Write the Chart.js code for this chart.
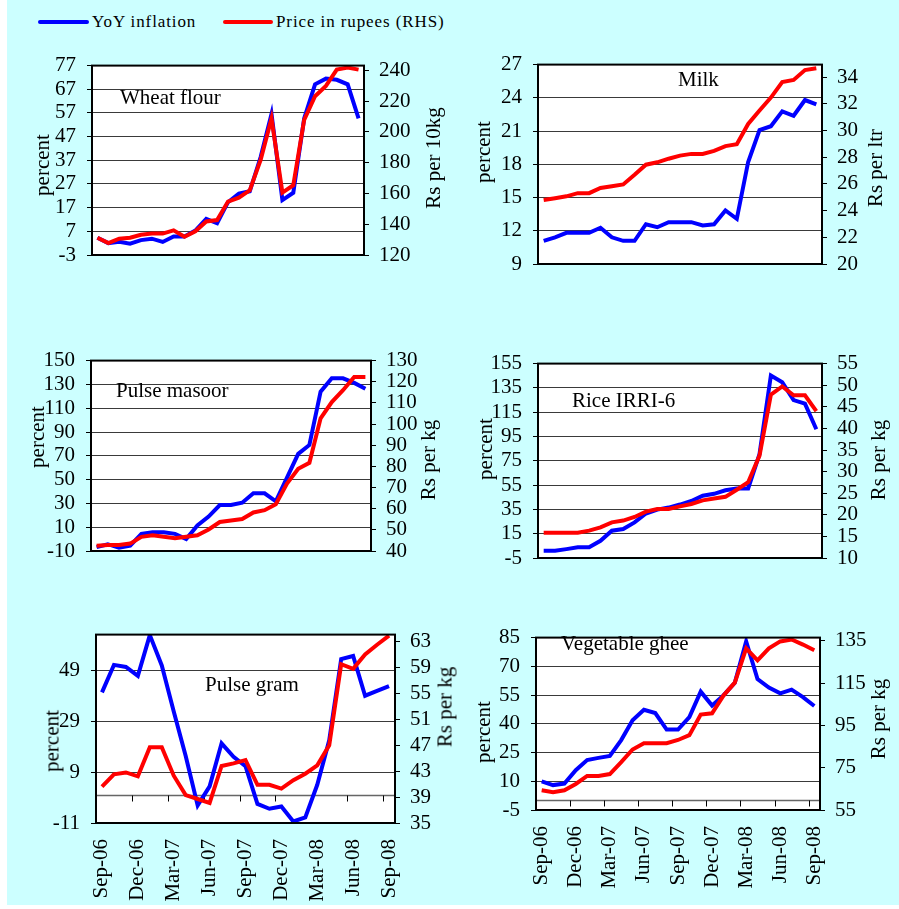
<!DOCTYPE html>
<html><head><meta charset="utf-8">
<script src="https://cdn.jsdelivr.net/npm/chart.js@4/dist/chart.umd.min.js"></script>
<style>
html,body{margin:0;padding:0;background:#fff;width:899px;height:909px;overflow:hidden;}
#bg{position:absolute;left:7px;top:0;width:892px;height:905px;background:#CCFFFF;}
#root{position:absolute;left:0;top:0;width:899px;height:909px;}
canvas{position:absolute;}
.t{position:absolute;font-family:'Liberation Serif','Times New Roman',serif;font-size:21px;color:#000;white-space:nowrap;line-height:1;}
.rot{transform:translate(-50%,-50%) rotate(-90deg);}
.ttl{transform:translateY(-50%);}
.lg{position:absolute;height:4px;border-radius:2px;}
.lgt{position:absolute;font-family:'Liberation Serif','Times New Roman',serif;font-size:17px;letter-spacing:0.9px;line-height:1;white-space:nowrap;color:#000;}
</style></head><body>
<div id="bg"></div>
<div id="root"></div>
<script>
const months = ["Sep-06","Oct-06","Nov-06","Dec-06","Jan-07","Feb-07","Mar-07","Apr-07","May-07","Jun-07","Jul-07","Aug-07","Sep-07","Oct-07","Nov-07","Dec-07","Jan-08","Feb-08","Mar-08","Apr-08","May-08","Jun-08","Jul-08","Aug-08","Sep-08"];
const seriesNames = ["YoY inflation", "Price in rupees (RHS)"];

const wheatInfl  = [4.3,2.0,2.6,1.8,3.3,3.9,2.5,4.8,4.8,7.3,12.3,10.4,19.3,22.9,23.9,38.4,56.6,20.2,23.3,54.7,69.1,71.5,71.0,69.1,54.7];
const wheatPrice = [131.2,127.7,130.6,131.2,133.1,133.9,133.9,136.0,131.9,135.4,141.8,142.7,154.7,157.2,162.0,181.7,208.6,160.5,165.3,207.7,223.1,229.8,240.4,241.8,240.4];
const wheatLeftTicks  = [-3,7,17,27,37,47,57,67,77];
const wheatRightTicks = [120,140,160,180,200,220,240];

const milkInfl  = [11.09,11.41,11.81,11.81,11.81,12.27,11.41,11.09,11.09,12.59,12.32,12.78,12.78,12.78,12.48,12.59,13.83,13.08,18.21,21.09,21.44,22.78,22.38,23.80,23.40];
const milkPrice = [24.80,24.93,25.07,25.31,25.31,25.70,25.83,25.96,26.68,27.44,27.62,27.89,28.12,28.25,28.25,28.48,28.83,28.97,30.49,31.50,32.47,33.63,33.79,34.53,34.66];
const milkLeftTicks  = [9,12,15,18,21,24,27];
const milkRightTicks = [20,22,24,26,28,30,32,34];

const masoorInfl  = [-6.8,-4.3,-7.3,-5.5,4.4,5.7,5.7,4.4,0.0,11.4,18.9,28.6,28.6,30.6,38.5,38.5,31.8,51.7,71.6,79.1,123.9,135.1,135.1,131.3,126.4];
const masoorPrice = [42.5,42.8,42.8,43.5,46.7,47.4,46.7,46.0,46.7,47.4,50.2,53.7,54.4,55.1,58.2,59.3,62.1,71.9,78.9,81.7,102.7,110.4,116.0,122.3,122.3];
const masoorLeftTicks  = [-10,10,30,50,70,90,110,130,150];
const masoorRightTicks = [40,50,60,70,80,90,100,110,120,130];

const riceInfl  = [0.9,0.9,2.3,3.8,3.8,9.2,17.5,18.9,24.3,31.6,34.8,36.5,39.0,41.9,46.3,47.8,50.7,52.2,52.2,80.5,145.2,139.6,125.0,122.0,101.0];
const ricePrice = [15.85,15.85,15.85,15.85,16.33,17.09,18.26,18.67,19.49,20.73,21.35,21.35,21.96,22.51,23.34,23.75,24.16,25.81,27.53,33.71,47.79,49.71,47.65,47.65,44.01];
const riceLeftTicks  = [-5,15,35,55,75,95,115,135,155];
const riceRightTicks = [10,15,20,25,30,35,40,45,50,55];

const gramInfl  = [40.3,51.1,50.3,46.8,62.8,50.9,32.8,15.3,-4.1,3.4,20.3,15.0,11.3,-3.5,-5.4,-4.5,-10.4,-8.8,4.0,21.5,53.4,54.6,39.0,40.9,42.8];
const gramPrice = [40.6,42.5,42.8,42.2,46.7,46.7,42.3,39.3,38.7,38.1,43.8,44.2,44.7,40.9,40.9,40.3,41.6,42.6,43.9,47.0,59.5,58.8,61.0,62.5,63.9];
const gramLeftTicks  = [-11,9,29,49];
const gramRightTicks = [35,39,43,47,51,55,59,63];

const gheeInfl  = [9.9,8.0,8.8,15.8,21.1,22.2,23.2,31.5,41.8,47.3,45.6,37.0,37.0,43.5,56.8,49.5,54.8,61.4,83.0,63.4,58.9,55.9,57.8,53.9,49.3];
const gheePrice = [64.3,63.4,64.3,67.3,71.1,71.1,72.0,77.6,83.6,86.6,86.6,86.6,88.1,90.4,100.1,100.7,109.1,115.2,131.4,125.7,131.4,134.7,135.6,133.2,130.5];
const gheeLeftTicks  = [-5,10,25,40,55,70,85];
const gheeRightTicks = [55,75,95,115,135];

const FONT = {family:"'Liberation Serif','Times New Roman',serif", size:21};
const root = document.getElementById('root');

const boxPlugin = {
  id:'box',
  beforeDraw(c){
    const a=c.chartArea, x=c.ctx; x.save(); x.fillStyle='#fff';
    x.fillRect(a.left,a.top,a.right-a.left,a.bottom-a.top); x.restore();
  },
  beforeDatasetsDraw(c, args, opts){
    if(!opts.zero) return;
    const a=c.chartArea, x=c.ctx, ys=c.scales.y, xs=c.scales.x;
    const y0=Math.round(ys.getPixelForValue(0))+0.5;
    x.save(); x.strokeStyle='#666'; x.lineWidth=1.5;
    x.beginPath(); x.moveTo(a.left,y0); x.lineTo(a.right,y0); x.stroke();
    x.strokeStyle='#000'; x.lineWidth=1;
    for(let i=3;i<months.length;i+=3){
      const bx=Math.round((xs.getPixelForValue(i-1)+xs.getPixelForValue(i))/2)+0.5;
      x.beginPath(); x.moveTo(bx,y0); x.lineTo(bx,y0+6); x.stroke();
    }
    x.restore();
  },
  afterDraw(c){
    const a=c.chartArea, x=c.ctx; x.save(); x.strokeStyle='#000'; x.lineWidth=2;
    x.strokeRect(a.left,a.top,a.right-a.left,a.bottom-a.top); x.restore();
  }
};

function makePanel(p){
  const [L,T,R,B]=p.area;
  const padL=70,padR=70,padT=15,padB=p.showX?95:15;
  const w=Math.round(R-L)+padL+padR, h=Math.round(B-T)+padT+padB;
  const cv=document.createElement('canvas');
  cv.width=w; cv.height=h;
  cv.style.left=(Math.round(L)-padL)+'px'; cv.style.top=(Math.round(T)-padT)+'px';
  cv.style.width=w+'px'; cv.style.height=h+'px';
  root.appendChild(cv);
  new Chart(cv,{
    type:'line',
    data:{labels:months,datasets:[
      {label:seriesNames[0],data:p.infl,yAxisID:'y',borderColor:'#0000FF',backgroundColor:'#0000FF',borderWidth:4,pointRadius:0,tension:0,fill:false,order:2},
      {label:seriesNames[1],data:p.price,yAxisID:'y1',borderColor:'#FF0000',backgroundColor:'#FF0000',borderWidth:4,pointRadius:0,tension:0,fill:false,order:1}
    ]},
    options:{
      responsive:false, animation:false, devicePixelRatio:1,
      layout:{padding:{top:padT,bottom:p.showX?0:padB,left:0,right:0}},
      plugins:{legend:{display:false},tooltip:{enabled:false},box:{zero:!!p.zero}},
      scales:{
        x:{type:'category',offset:true,display:!!p.showX,
           grid:{display:false},border:{display:false},
           ticks:{autoSkip:false,maxRotation:90,minRotation:90,padding:8,font:FONT,color:'#000',
                  callback:(v,i)=> (i%3===0? months[i] : '')},
           afterFit:s=>{s.height=padB;}},
        y:{position:'left',min:p.left.min,max:p.left.max,
           afterBuildTicks:s=>{s.ticks=p.left.ticks.map(v=>({value:v}));},
           grid:{color:'#3a3a3a',lineWidth:1,drawTicks:true,tickLength:5,tickColor:'#000',tickWidth:1},
           border:{display:false},
           ticks:{autoSkip:false,padding:11,font:FONT,color:'#000',callback:v=>String(v)},
           afterFit:s=>{s.width=padL;}},
        y1:{position:'right',min:p.right.min,max:p.right.max,
           afterBuildTicks:s=>{s.ticks=p.right.ticks.map(v=>({value:v}));},
           grid:{drawOnChartArea:false,drawTicks:true,tickLength:5,tickColor:'#000',tickWidth:1},
           border:{display:false},
           ticks:{autoSkip:false,padding:10,font:FONT,color:'#000',callback:v=>String(v)},
           afterFit:s=>{s.width=padR;}}
      }
    },
    plugins:[boxPlugin]
  });
}

makePanel({area:[92,57,364,270],infl:wheatInfl,price:wheatPrice,
  left:{min:-3,max:77,ticks:wheatLeftTicks},right:{min:120,max:243,ticks:wheatRightTicks}});
makePanel({area:[538,56,822,279],infl:milkInfl,price:milkPrice,
  left:{min:9,max:27,ticks:milkLeftTicks},right:{min:20,max:34.94,ticks:milkRightTicks}});
makePanel({area:[91,352,371,566],infl:masoorInfl,price:masoorPrice,
  left:{min:-10,max:150,ticks:masoorLeftTicks},right:{min:40,max:130,ticks:masoorRightTicks}});
makePanel({area:[538,355,822,573],infl:riceInfl,price:ricePrice,
  left:{min:-5,max:155,ticks:riceLeftTicks},right:{min:10,max:55,ticks:riceRightTicks}});
makePanel({area:[96,626,395,823],infl:gramInfl,price:gramPrice,showX:true,zero:true,
  left:{min:-11,max:63,ticks:gramLeftTicks},right:{min:35,max:64.07,ticks:gramRightTicks}});
makePanel({area:[536,629,820,810],infl:gheeInfl,price:gheePrice,showX:true,zero:true,
  left:{min:-5,max:85,ticks:gheeLeftTicks},right:{min:55,max:136.5,ticks:gheeRightTicks}});

// text overlays
function txt(s,x,y,cls){const d=document.createElement('div');d.className='t '+cls;d.textContent=s;d.style.left=x+'px';d.style.top=y+'px';root.appendChild(d);}
const panelTitles = [["Wheat flour",120,97],["Milk",678,79],["Pulse masoor",116,390],["Rice IRRI-6",572,400],["Pulse gram",205,684],["Vegetable ghee",561,643]];
const leftTitles  = [["percent",42,165],["percent",483,152],["percent",37,437],["percent",485,449],["percent",52,741],["percent",483,732]];
const rightTitles = [["Rs  per  10kg",433,158],["Rs per ltr",875,168],["Rs per kg",428,460],["Rs per kg",878,460],["Rs per kg",445,707],["Rs per kg",878,719]];
panelTitles.forEach(t=>txt(t[0],t[1],t[2],'ttl'));
leftTitles.forEach(t=>txt(t[0],t[1],t[2],'rot'));
rightTitles.forEach(t=>txt(t[0],t[1],t[2],'rot'));

// legend
function lg(color,x1,x2,tx,label){
  const l=document.createElement('div');l.className='lg';l.style.background=color;
  l.style.left=x1+'px';l.style.width=(x2-x1)+'px';l.style.top='20px';root.appendChild(l);
  const t=document.createElement('div');t.className='lgt';t.textContent=label;t.style.left=tx+'px';t.style.top='13px';root.appendChild(t);
}
lg('#0000FF',38,89,92,seriesNames[0]);
lg('#FF0000',223,273,276,seriesNames[1]);
</script>
</body></html>
